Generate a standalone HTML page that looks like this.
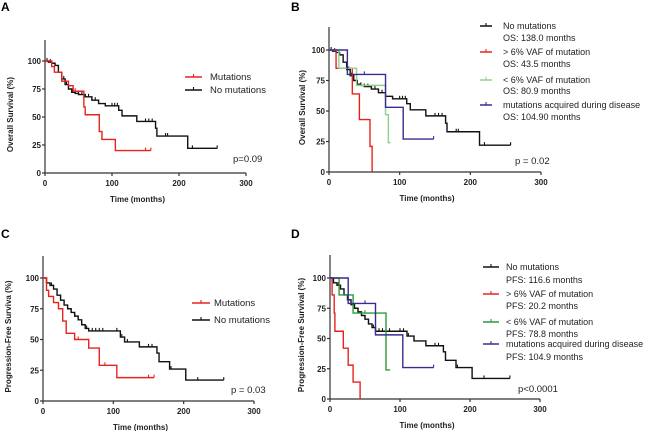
<!DOCTYPE html>
<html><head><meta charset="utf-8"><style>
body{margin:0;background:#fff;width:650px;height:431px;overflow:hidden}
svg{display:block;font-family:"Liberation Sans",sans-serif}
.tk{font-size:8px;font-weight:bold;fill:#222}
.lg{font-size:9.5px;fill:#222}
.lg2{font-size:9px;fill:#222}
</style></head><body>
<svg id="fig" width="650" height="431" viewBox="0 0 650 431"></svg>
<script>
// ---------- data ----------
const aNoMutT=[0,5,10,15,20,25,30,35,40,45,50,60,70,80,90,105,110,115,137,165,167,213];
const aNoMutS=[100,99,98,96,90,84,79,75,72,71,70,68,65,62,60,60,56,51,46,40,33,22];
const aNoMutEnd=257;
const aNoMutCens=[3,8,28,32,40,45,50,55,60,65,70,75,100,104,108,150,155,160,180,183,220,257];
const aMutT=[0,10,14,25,35,42,58,60,81,85,105];
const aMutS=[100,95,90,82,78,73,59,52,37,30,20];
const aMutEnd=158;
const aMutCens=[45,85,150,158];
const bNoMutT=[0,5,10,15,20,25,30,35,40,45,50,60,70,80,90,105,110,115,137,165,167,213];
const bNoMutS=[100,99,98,96,90,84,79,75,72,71,70,68,65,62,60,60,56,51,46,40,33,22];
const bNoMutEnd=257;
const bNoMutCens=[3,8,28,32,40,45,50,55,60,65,70,75,100,104,108,150,155,160,180,183,220,257];
const bHighT=[0,10,33,43,58,61];
const bHighS=[100,85,64,43,21,0];
const bHighEnd=61;
const bLowT=[0,14,39,80,84];
const bLowS=[100,85,71,47,24];
const bLowEnd=87;
const bAcqT=[0,26,80,105];
const bAcqS=[100,80,53,27];
const bAcqEnd=148;
const bAcqCens=[50,148];
const cNoMutT=[0,5,10,15,20,25,30,35,40,45,50,55,60,65,108,110,116,137,162,165,180,203];
const cNoMutS=[100,96,94,91,86,82,78,75,72,69,66,62,59,57,57,52,48,44,39,32,26,17];
const cNoMutEnd=257;
const cNoMutCens=[5,12,40,45,50,55,62,70,75,80,85,105,112,120,150,155,182,220,257];
const cMutT=[0,5,8,15,22,28,33,45,65,80,105];
const cMutS=[100,90,85,80,75,65,55,50,43,29,19];
const cMutEnd=158;
const cMutCens=[45,50,88,150,158];
const dNoMutT=[0,5,10,15,20,25,30,35,40,45,50,55,60,65,107,110,120,137,162,165,180,203];
const dNoMutS=[100,96,94,91,86,82,78,75,72,69,66,62,59,56,56,52,48,44,39,32,26,17];
const dNoMutEnd=257;
const dNoMutCens=[5,12,40,45,50,55,62,70,75,80,85,100,105,112,120,150,155,182,220,257];
const dHighT=[0,3,6,7,19,26,33,43];
const dHighS=[100,86,71,56,42,28,14,0];
const dHighEnd=43;
const dLowT=[0,13,33,80];
const dLowS=[100,86,71,24];
const dLowEnd=86;
const dAcqT=[0,26,65,104];
const dAcqS=[100,79,53,26];
const dAcqEnd=148;
const dAcqCens=[50,148];
const xTicks=[0,100,200,300];
const yTicks=[0,25,50,75,100];

// ---------- drawing ----------
const NS="http://www.w3.org/2000/svg";
const svg=document.getElementById('fig');
function el(tag,attrs,parent){const e=document.createElementNS(NS,tag);for(const k in attrs)e.setAttribute(k,attrs[k]);(parent||svg).appendChild(e);return e;}
function txt(x,y,s,cls,anchor,parent){const t=el('text',{x:x,y:y,class:cls,'text-anchor':anchor||'start'},parent);t.textContent=s;return t;}

function panel(p){
  const g=el('g',{});
  
  
  const sx=v=>p.x0+(p.x1-p.x0)*v/300;
  const sy=v=>p.y0-(p.y0-p.y100)*v/100;
  const L=txt(p.lx,p.ly,p.letter,'',"start",g);
  L.setAttribute('style','font-size:12px;font-weight:bold');
  
  
  const ax=el('g',{stroke:'#333','stroke-width':1.2,fill:'none'},g);
  
  
  el('line',{x1:p.x0,y1:p.top,x2:p.x0,y2:p.y0},ax);
  el('line',{x1:p.x0,y1:p.y0,x2:p.x1,y2:p.y0},ax);
  xTicks.forEach(v=>{el('line',{x1:sx(v),y1:p.y0,x2:sx(v),y2:p.y0+3},ax);
    const t=txt(sx(v),p.y0+13,String(v),'tk','middle',g);
    
    });
  yTicks.forEach(v=>{el('line',{x1:p.x0-3,y1:sy(v),x2:p.x0,y2:sy(v)},ax);
    const t=txt(p.x0-4,sy(v)+3,String(v),'tk','end',g);
    
    });
  const xt=txt((p.x0+p.x1)/2-8,p.y0+29,'Time (months)','tk','middle',g);
  
  
  const yc=(p.y0+p.top)/2+8;
  const yt=txt(p.yx,yc,p.ytitle,'tk','middle',g);
  yt.setAttribute('transform','rotate(-90 '+p.yx+' '+yc+')');
  
  
  p.series.forEach(s=>{
    let d='M'+sx(s.t[0])+','+sy(s.s[0]);
    for(let i=1;i<s.t.length;i++){d+='H'+sx(s.t[i])+'V'+sy(s.s[i]);}
    d+='H'+sx(s.end);
    const path=el('path',{d:d,fill:'none',stroke:s.color,'stroke-width':1.4},g);
    
    
    (s.cens||[]).forEach(c=>{
      let lv=s.s[0];for(let i=0;i<s.t.length;i++){if(s.t[i]<=c)lv=s.s[i];}
      const m=el('line',{x1:sx(c),y1:sy(lv),x2:sx(c),y2:sy(lv)-3,stroke:s.color,'stroke-width':1.1},g);
      
      
    });
  });
  p.legend.forEach(e=>{
    if(e.color){
      const lg=el('line',{x1:p.legX1,y1:e.y-3,x2:p.legX2,y2:e.y-3,stroke:e.color,'stroke-width':1.5},g);
      
      
      el('line',{x1:(p.legX1+p.legX2)/2,y1:e.y-3,x2:(p.legX1+p.legX2)/2,y2:e.y-6,stroke:e.color,'stroke-width':1.1},g);
    }
    const t=txt(p.legTx,e.y,e.text,p.lcls,'start',g);
    
    
  });
  const pv=txt(p.px,p.py,p.ptext,'lg','start',g);
  
  
}
const K='#111',R='#e8231f',LG='#8fd08f',G='#2e9a3a',P='#3a2b8f';
panel({name:'panel-a-overall-survival',letter:'A',lx:1,ly:11,x0:45,x1:246,y100:61,y0:173,top:40,yx:13,ytitle:'Overall Survival (%)',lcls:'lg',
  series:[{name:'no-mutations-line',t:aNoMutT,s:aNoMutS,end:aNoMutEnd,cens:aNoMutCens,color:K},
          {name:'mutations-line',t:aMutT,s:aMutS,end:aMutEnd,cens:aMutCens,color:R}],
  legX1:185,legX2:202,legTx:210,legend:[{y:80,text:'Mutations',color:R},{y:93,text:'No mutations',color:K}],
  px:233,py:162,ptext:'p=0.09'});
panel({name:'panel-b-overall-survival-subgroups',letter:'B',lx:291,ly:11,x0:329,x1:541,y100:50,y0:172,top:27,yx:305,ytitle:'Overall Survival (%)',lcls:'lg2',
  series:[{name:'no-mutations-line',t:bNoMutT,s:bNoMutS,end:bNoMutEnd,cens:bNoMutCens,color:K},
          {name:'high-vaf-line',t:bHighT,s:bHighS,end:bHighEnd,color:R},
          {name:'low-vaf-line',t:bLowT,s:bLowS,end:bLowEnd,color:LG},
          {name:'acquired-line',t:bAcqT,s:bAcqS,end:bAcqEnd,cens:bAcqCens,color:P}],
  legX1:480,legX2:492,legTx:503,legend:[{y:29,text:'No mutations',color:K},{y:41,text:'OS: 138.0 months'},
   {y:55,text:'> 6% VAF of mutation',color:R},{y:67,text:'OS: 43.5 months'},
   {y:83,text:'< 6% VAF of mutation',color:LG},{y:94,text:'OS: 80.9 months'},
   {y:108,text:'mutations acquired during disease',color:P},{y:120,text:'OS: 104.90 months'}],
  px:515,py:164,ptext:'p = 0.02'});
panel({name:'panel-c-progression-free-survival',letter:'C',lx:1,ly:238,x0:43,x1:254,y100:278,y0:401,top:256,yx:11,ytitle:'Progression-Free Surviva (%)',lcls:'lg',
  series:[{name:'no-mutations-line',t:cNoMutT,s:cNoMutS,end:cNoMutEnd,cens:cNoMutCens,color:K},
          {name:'mutations-line',t:cMutT,s:cMutS,end:cMutEnd,cens:cMutCens,color:R}],
  legX1:192,legX2:210,legTx:214,legend:[{y:306,text:'Mutations',color:R},{y:323,text:'No mutations',color:K}],
  px:231,py:393,ptext:'p = 0.03'});
panel({name:'panel-d-progression-free-survival-subgroups',letter:'D',lx:291,ly:238,x0:330,x1:540,y100:278,y0:399,top:255,yx:304,ytitle:'Progression-Free Survival (%)',lcls:'lg2',
  series:[{name:'no-mutations-line',t:dNoMutT,s:dNoMutS,end:dNoMutEnd,cens:dNoMutCens,color:K},
          {name:'high-vaf-line',t:dHighT,s:dHighS,end:dHighEnd,color:R},
          {name:'low-vaf-line',t:dLowT,s:dLowS,end:dLowEnd,cens:[50],color:G},
          {name:'acquired-line',t:dAcqT,s:dAcqS,end:dAcqEnd,cens:dAcqCens,color:P}],
  legX1:483,legX2:499,legTx:506,legend:[{y:270,text:'No mutations',color:K},{y:283,text:'PFS: 116.6 months'},
   {y:297,text:'> 6% VAF of mutation',color:R},{y:309,text:'PFS: 20.2 months'},
   {y:325,text:'< 6% VAF of mutation',color:G},{y:337,text:'PFS: 78.8 months'},
   {y:347,text:'mutations acquired during disease',color:P},{y:360,text:'PFS: 104.9 months'}],
  px:518,py:392,ptext:'p<0.0001'});
</script>
</body></html>
